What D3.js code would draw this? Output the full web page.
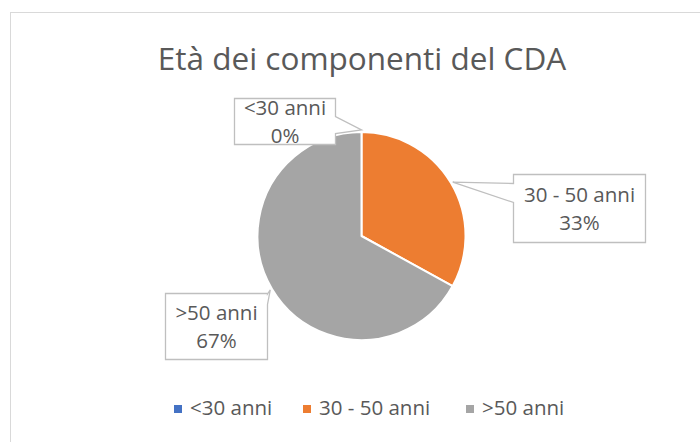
<!DOCTYPE html>
<html>
<head>
<meta charset="utf-8">
<script src="https://cdn.jsdelivr.net/npm/d3@7/dist/d3.min.js"></script>
<style>
  html, body { margin: 0; padding: 0; background: #fff; }
  svg { display: block; font-family: "Open Sans", sans-serif; }
</style>
</head>
<body>
<svg id="chart" width="700" height="442"></svg>
<script>
// Age groups of the board members and their share (%)
const categories = ["<30 anni", "30 - 50 anni", ">50 anni"];
const shares = [0, 33, 67];
const colors = ["#4472C4", "#ED7D31", "#A5A5A5"];
const title = "Età dei componenti del CDA";

// Callout box geometry for each slice label (box relative to pointer tip,
// pointer base given on one box edge)
const calloutLayout = [
  { dx: -128, dy: -32, w: 101, h: 46, edge: "right", b0: 18, b1: 35 },
  { dx: 60, dy: -8, w: 132, h: 68, edge: "left", b0: 9, b1: 28 },
  { dx: -105, dy: 3, w: 102, h: 66, edge: "right", b0: 0.5, b1: 11 }
];

const svg = d3.select("#chart");
const textColor = "#595959";

// Chart area frame
svg.append("rect")
  .attr("x", 10.5).attr("y", 12.5)
  .attr("width", 720).attr("height", 460)
  .attr("fill", "#fff")
  .attr("stroke", "#D9D9D9")
  .attr("stroke-width", 1);

// Title
svg.append("text")
  .attr("x", 362).attr("y", 70)
  .attr("text-anchor", "middle")
  .attr("fill", textColor)
  .style("font-size", "31.5px")
  .text(title);

// Pie
const cx = 361.5, cy = 236, r = 104;
const data = categories.map((c, i) => ({ name: c, value: shares[i], color: colors[i] }));
const pie = d3.pie().value(d => d.value).sort(null);
const arcs = pie(data);
const arc = d3.arc().innerRadius(0).outerRadius(r);

const g = svg.append("g").attr("transform", `translate(${cx},${cy})`);
g.selectAll("path.slice")
  .data(arcs)
  .join("path")
  .attr("class", "slice")
  .attr("d", arc)
  .attr("fill", d => d.data.color)
  .attr("stroke", "#fff")
  .attr("stroke-width", 2)
  .attr("stroke-linejoin", "round");

// Data callouts
const tipRadius = r + 2;
arcs.forEach((a, i) => {
  const L = calloutLayout[i];
  const mid = (a.startAngle + a.endAngle) / 2;
  const tx = cx + tipRadius * Math.sin(mid);
  const ty = cy - tipRadius * Math.cos(mid);
  const x0 = Math.round(tx + L.dx) + 0.5;
  const y0 = Math.round(ty + L.dy) + 0.5;
  const x1 = x0 + L.w, y1 = y0 + L.h;
  let p;
  if (L.edge === "left") {
    p = `M${x0},${y0}H${x1}V${y1}H${x0}V${y0 + L.b1}L${tx},${ty}L${x0},${y0 + L.b0}Z`;
  } else {
    p = `M${x0},${y0}H${x1}V${y0 + L.b0}L${tx},${ty}L${x1},${y0 + L.b1}V${y1}H${x0}Z`;
  }
  svg.append("path")
    .attr("d", p)
    .attr("fill", "#fff")
    .attr("stroke", "#BFBFBF")
    .attr("stroke-width", 1.3)
    .attr("stroke-linejoin", "miter");
  const midX = (x0 + x1) / 2;
  const t = svg.append("text")
    .attr("text-anchor", "middle")
    .attr("fill", textColor)
    .style("font-size", "20.5px");
  const lineGap = 28;
  const firstBase = (y0 + y1) / 2 - lineGap / 2 + 7;
  t.append("tspan").attr("x", midX).attr("y", firstBase).text(a.data.name);
  t.append("tspan").attr("x", midX).attr("y", firstBase + lineGap)
    .text(d3.format(".0%")(a.data.value / 100));
});

// Legend
const legendX = [174, 303, 466];
const legend = svg.append("g");
data.forEach((d, i) => {
  legend.append("rect")
    .attr("x", legendX[i]).attr("y", 405)
    .attr("width", 8).attr("height", 8)
    .attr("fill", d.color);
  legend.append("text")
    .attr("x", legendX[i] + 16).attr("y", 415)
    .attr("fill", textColor)
    .style("font-size", "20.5px")
    .text(d.name);
});
</script>
</body>
</html>
